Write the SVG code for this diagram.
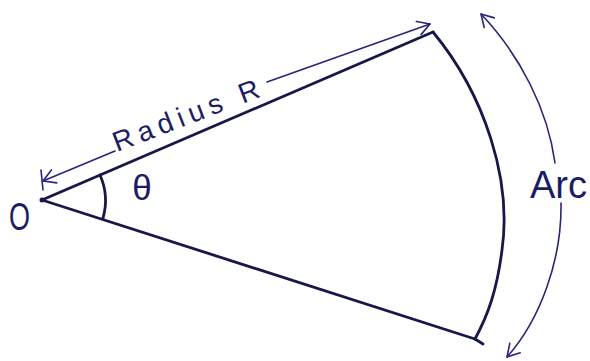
<svg xmlns="http://www.w3.org/2000/svg" width="590" height="361" viewBox="0 0 590 361">
<defs>
<style>
.main{fill:none;stroke:#17174a;stroke-width:2.8;stroke-linecap:round;stroke-linejoin:round}
.dim{fill:none;stroke:#26267a;stroke-width:1.6;stroke-linecap:round;stroke-linejoin:round}
.lbl{font-family:"Liberation Sans",Arial,sans-serif;fill:#1c1c66}
</style>
<marker id="ah" viewBox="-14 -8 16 16" markerWidth="16" markerHeight="16" refX="0" refY="0" orient="auto-start-reverse" markerUnits="userSpaceOnUse">
<path d="M-12,-7 L0,0 L-12,7" fill="none" stroke="#26267a" stroke-width="1.6" stroke-linecap="round" stroke-linejoin="round"/>
</marker>
</defs>
<rect width="590" height="361" fill="#ffffff"/>
<g id="sector">
<path class="main" d="M433,32 L42,200 L475,339"/>
<path class="main" d="M475,339 L483,344"/>
<path class="main" d="M433,32 C485,95 512,180 502,250 C497,290 488,315 475,339"/>
<circle cx="42" cy="200" r="2.5" fill="#17174a"/>
</g>
<g id="angle">
<path class="main" d="M100,175 A63,63 0 0 1 103,218" stroke-width="2.4"/>
<text class="lbl" x="142" y="200" font-size="35" text-anchor="middle">θ</text>
</g>
<g id="origin">
<text class="lbl" x="9" y="230" font-size="38" textLength="21" lengthAdjust="spacingAndGlyphs">O</text>
</g>
<g id="connectors">
<path class="dim" d="M115,151 L43,181" marker-end="url(#ah)"/>
<path class="dim" d="M41,170 L43,190"/>
<path class="dim" d="M267,82 L430,24" marker-end="url(#ah)"/>
<path class="dim" d="M555,163 C548,110 520,55 481,14" marker-end="url(#ah)"/>
<path class="dim" d="M561,203 C562,260 540,320 507,357" marker-end="url(#ah)"/>
</g>
<g id="radius-label">
<text class="lbl" x="117" y="152" font-size="28" transform="rotate(-21 117 152)" textLength="155" lengthAdjust="spacing">Radius R</text>
</g>
<g id="arc-label">
<text class="lbl" x="530" y="198" font-size="38">Arc</text>
</g>
</svg>
